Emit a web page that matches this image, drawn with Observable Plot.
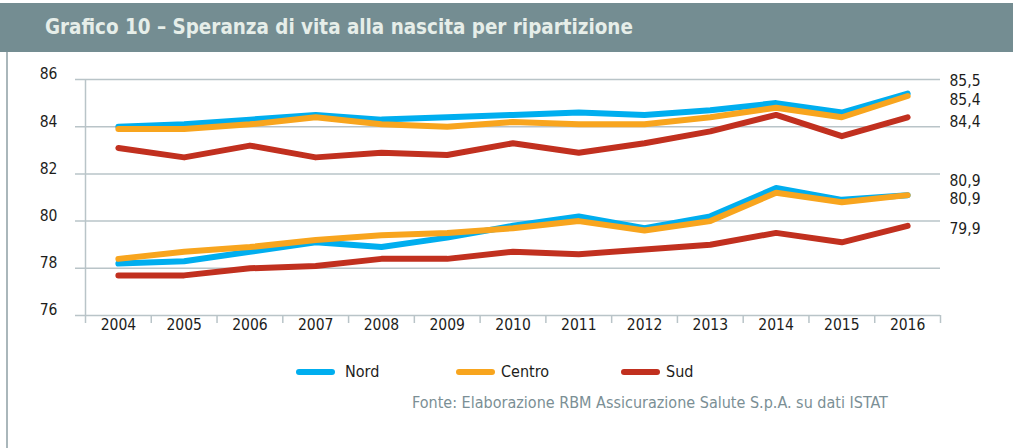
<!DOCTYPE html>
<html>
<head>
<meta charset="utf-8">
<script src="https://cdn.jsdelivr.net/npm/d3@7"></script>
<script src="https://cdn.jsdelivr.net/npm/@observablehq/plot@0.6"></script>
<style>
  html, body { margin: 0; padding: 0; background: #ffffff; }
  #page { position: relative; width: 1013px; height: 448px; overflow: hidden;
          font-family: "DejaVu Sans Condensed", "DejaVu Sans", sans-serif; }
  #header { position: absolute; left: 0; top: 3px; width: 1013px; height: 49px; background: #748d92; }
  #title { position: absolute; left: 45px; top: 24px; transform: translateY(-50%);
           color: #e6eee9; font-weight: bold; font-size: 20px; white-space: nowrap; }
  #border { position: absolute; left: 6px; top: 52px; width: 2px; height: 396px; background: #aab7bb; }
  #chart { position: absolute; left: 0; top: 52px; }
  .leg-line { position: absolute; height: 6px; border-radius: 3px; top: 369px; }
  .leg-text { position: absolute; top: 372px; font-size: 16px; color: #1d1d1b; line-height: 1;
              transform: translateY(-50%); white-space: nowrap; }
  #source { position: absolute; left: 412px; top: 403px; transform: translateY(-50%);
            font-size: 15px; color: #7b8f95; white-space: nowrap; line-height: 1; }
</style>
</head>
<body>
<div id="page">
  <div id="header"><span id="title">Grafico 10 – Speranza di vita alla nascita per ripartizione</span></div>
  <div id="border"></div>
  <div id="chart"></div>
  <div id="legend"></div>
  <div id="source">Fonte: Elaborazione RBM Assicurazione Salute S.p.A. su dati ISTAT</div>
</div>
<script>
// ---- data ----
const years = [2004, 2005, 2006, 2007, 2008, 2009, 2010, 2011, 2012, 2013, 2014, 2015, 2016];
const regions = ["Nord", "Centro", "Sud"];
// women (upper group)
const nordF   = [84.0, 84.1, 84.3, 84.5, 84.3, 84.4, 84.5, 84.6, 84.5, 84.7, 85.0, 84.6, 85.4];
const centroF = [83.9, 83.9, 84.1, 84.4, 84.1, 84.0, 84.2, 84.1, 84.1, 84.4, 84.8, 84.4, 85.3];
const sudF    = [83.1, 82.7, 83.2, 82.7, 82.9, 82.8, 83.3, 82.9, 83.3, 83.8, 84.5, 83.6, 84.4];
// men (lower group)
const nordM   = [78.2, 78.3, 78.7, 79.1, 78.9, 79.3, 79.8, 80.2, 79.7, 80.2, 81.4, 80.9, 81.1];
const centroM = [78.4, 78.7, 78.9, 79.2, 79.4, 79.5, 79.7, 80.0, 79.6, 80.0, 81.2, 80.8, 81.1];
const sudM    = [77.7, 77.7, 78.0, 78.1, 78.4, 78.4, 78.7, 78.6, 78.8, 79.0, 79.5, 79.1, 79.8];
// end labels
const endLabelsF = ["85,5", "85,4", "84,4"];
const endLabelsM = ["80,9", "80,9", "79,9"];
const yTicks = [76, 78, 80, 82, 84, 86];

// ---- styles ----
const colors = {Nord: "#00aeef", Centro: "#f8a51e", Sud: "#c1301f"};
const gridColor = "#b9c4c8";

const seriesF = {Nord: nordF, Centro: centroF, Sud: sudF};
const seriesM = {Nord: nordM, Centro: centroM, Sud: sudM};
const rowsOf = (vals) => years.map((y, i) => ({year: y, value: vals[i]}));

const xDomain = [years[0] - 0.5, years[years.length - 1] + 0.5];
const boundaries = d3.range(years.length + 1).map(i => xDomain[0] + i);

// end label vertical nudges (pixels) so labels stack as in the original
const dyF = {Nord: -12.5, Centro: 4, Sud: 5};
const dyM = {Nord: -14.5, Centro: 4, Sud: 3.5};

const drawOrder = ["Sud", "Nord", "Centro"];
const lineMarks = [];
for (const group of [seriesF, seriesM]) {
  for (const r of drawOrder) {
    lineMarks.push(Plot.line(rowsOf(group[r]), {
      x: "year", y: "value", stroke: colors[r], strokeWidth: 6,
      strokeLinecap: "round", strokeLinejoin: "round"
    }));
  }
}

const labelMarks = [];
regions.forEach((r, i) => {
  labelMarks.push(Plot.text([{v: seriesF[r][years.length - 1], t: endLabelsF[i]}], {
    y: "v", text: "t", frameAnchor: "right", textAnchor: "start", dx: 9, dy: dyF[r],
    fill: "#1d1d1b", fontSize: 15.5
  }));
  labelMarks.push(Plot.text([{v: seriesM[r][years.length - 1], t: endLabelsM[i]}], {
    y: "v", text: "t", frameAnchor: "right", textAnchor: "start", dx: 9, dy: dyM[r],
    fill: "#1d1d1b", fontSize: 15.5
  }));
});

const chart = Plot.plot({
  width: 1013,
  height: 290,
  marginTop: 27,
  marginBottom: 27,
  marginLeft: 85,
  marginRight: 73,
  x: {domain: xDomain, axis: null},
  y: {domain: [76, 86], axis: null},
  style: {fontFamily: "'DejaVu Sans Condensed', 'DejaVu Sans', sans-serif", fontSize: "15px",
          color: "#1d1d1b", background: "transparent", overflow: "visible"},
  marks: [
    Plot.ruleY(yTicks, {stroke: gridColor, strokeWidth: 1.5, insetLeft: -10}),
    Plot.ruleX([boundaries[0]], {stroke: gridColor, strokeWidth: 1.5, insetBottom: -8}),
    Plot.ruleX(boundaries.slice(1), {y1: 76, y2: 76, stroke: gridColor, strokeWidth: 1.5, insetBottom: -8}),
    Plot.text(yTicks, {y: d => d, text: d => String(d), frameAnchor: "left", textAnchor: "end",
                       dx: -28, dy: -5, fill: "#1d1d1b", fontSize: 15.5}),
    Plot.text(years, {x: d => d, text: d => String(d), frameAnchor: "bottom", dy: 14,
                      fill: "#1d1d1b", fontSize: 15.5}),
    ...lineMarks,
    ...labelMarks
  ]
});
document.getElementById("chart").appendChild(chart);

// ---- legend ----
const legend = document.getElementById("legend");
const legendPos = {Nord: [296, 345], Centro: [456, 501], Sud: [621, 666]};
for (const r of regions) {
  const ln = document.createElement("div");
  ln.className = "leg-line";
  ln.style.left = legendPos[r][0] + "px";
  ln.style.width = "39px";
  ln.style.background = colors[r];
  legend.appendChild(ln);
  const tx = document.createElement("div");
  tx.className = "leg-text";
  tx.style.left = legendPos[r][1] + "px";
  tx.textContent = r;
  legend.appendChild(tx);
}

// fit text widths to the original
function fit(el, target) {
  const w = el.getBoundingClientRect().width;
  const fs = parseFloat(getComputedStyle(el).fontSize);
  if (w > 0) el.style.fontSize = (fs * target / w).toFixed(2) + "px";
}
fit(document.getElementById("title"), 588);
fit(document.getElementById("source"), 476);
</script>
</body>
</html>
